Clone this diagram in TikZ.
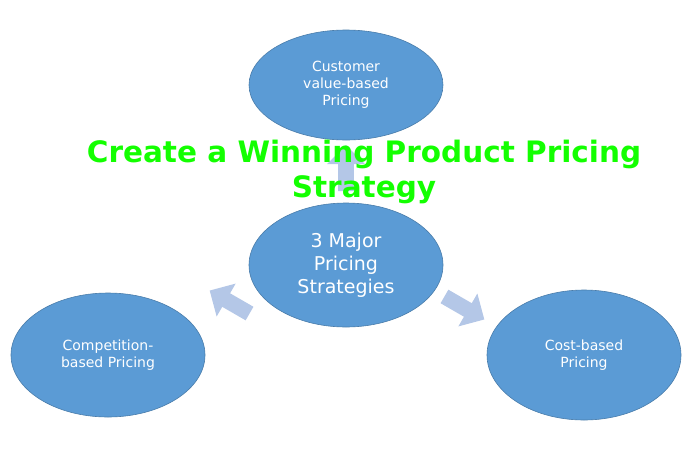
\documentclass[tikz,border=0pt]{standalone}
\usepackage{fontspec}
\setmainfont{DejaVu Sans}
\usetikzlibrary{shapes.geometric,shapes.arrows}
\definecolor{ell}{HTML}{5B9BD5}
\definecolor{arr}{HTML}{B4C7E7}
\tikzset{
 circ/.style={ellipse,fill=ell,draw=ell!80!black,line width=0.6pt,text=white,align=center,font=\fontsize{14}{17}\selectfont},
 barrow/.style={single arrow,fill=arr,draw=none,minimum width=38pt,single arrow head extend=6pt,minimum height=46pt,inner sep=4pt}
}
\begin{document}
\begin{tikzpicture}[x=1pt,y=-1pt]
\useasboundingbox (0,0) rectangle (700,450);
\node[barrow,rotate=90] (up) at (346,172) {};
\node[barrow,rotate=150] (la) at (233,304) {};
\node[barrow,rotate=-30] (ra) at (461,306) {};
\node[circ,minimum width=194pt,minimum height=110pt] (top) at (346,85) {Customer\\value-based\\Pricing};
\node[circ,minimum width=194pt,minimum height=124pt,font=\fontsize{19}{23}\selectfont] (mid) at (346,265) {3 Major\\Pricing\\Strategies};
\node[circ,minimum width=194pt,minimum height=124pt] (left) at (108,355) {Competition-\\based Pricing};
\node[circ,minimum width=194pt,minimum height=130pt] (right) at (584,355) {Cost-based\\Pricing};
\node[text=green!90!lime,font=\bfseries\fontsize{29.5}{35}\selectfont,align=center] (title) at (364,172) {Create a Winning Product Pricing\\Strategy};
\end{tikzpicture}
\end{document}
